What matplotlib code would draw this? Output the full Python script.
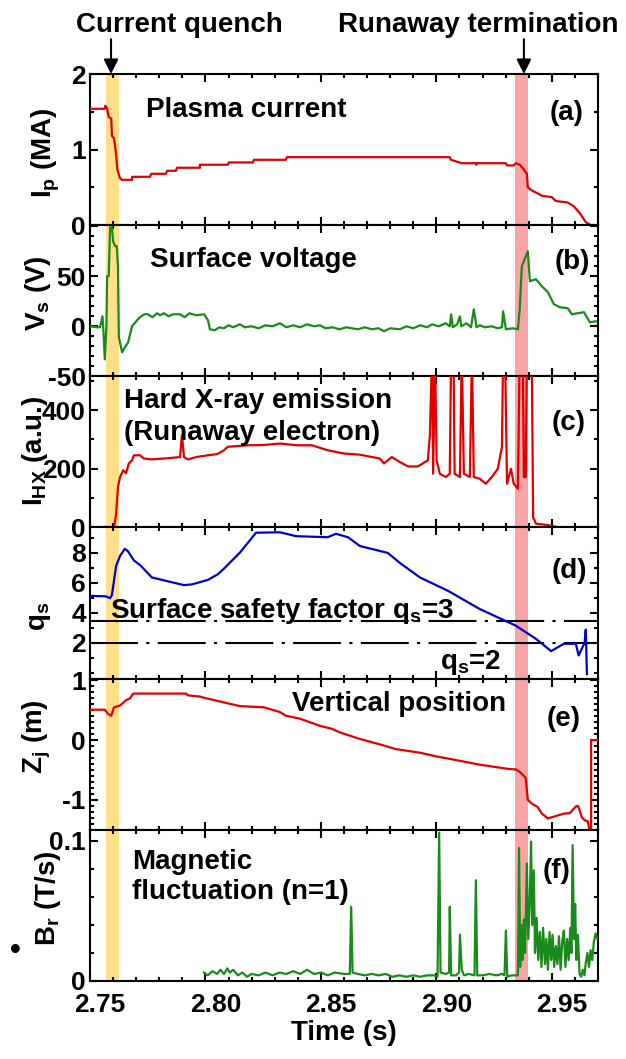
import numpy as np
import matplotlib
matplotlib.use('Agg')
import matplotlib.pyplot as plt
from matplotlib.ticker import MultipleLocator
from matplotlib.transforms import ScaledTranslation

plt.rcParams.update({'font.family': ['Liberation Sans', 'DejaVu Sans'],
                     'font.weight': 'bold', 'font.size': 20,
                     'axes.labelweight': 'bold',
                     'axes.unicode_minus': False,
                     'mathtext.fontset': 'custom',
                     'mathtext.rm': 'Liberation Sans:bold',
                     'mathtext.bf': 'Liberation Sans:bold',
                     'mathtext.it': 'Liberation Sans:bold',
                     'mathtext.default': 'rm',
                     'axes.linewidth': 1.5})

# shaded time windows (s)
quench_win = (2.7570, 2.7626)
term_win = (2.9340, 2.9396)

# (a) plasma current, MA
ip_pts = [(2.7500, 1.54), (2.7564, 1.54), (2.7566, 1.58), (2.7574, 1.54), (2.7581, 1.43),
          (2.7592, 1.41), (2.7595, 1.18), (2.7604, 1.15), (2.7613, 0.94), (2.7618, 0.74),
          (2.7630, 0.62), (2.7638, 0.60), (2.7682, 0.60), (2.7682, 0.64), (2.7760, 0.64),
          (2.7765, 0.68), (2.7829, 0.68), (2.7834, 0.72), (2.7872, 0.72), (2.7877, 0.76),
          (2.7976, 0.76), (2.7976, 0.80), (2.8097, 0.80), (2.8101, 0.83), (2.8205, 0.83),
          (2.8210, 0.865), (2.8348, 0.865), (2.8353, 0.90), (2.9058, 0.90), (2.9063, 0.865),
          (2.9110, 0.82), (2.9171, 0.82), (2.9173, 0.80), (2.9176, 0.82), (2.9301, 0.82),
          (2.9306, 0.79), (2.9335, 0.79), (2.9344, 0.82), (2.9361, 0.80), (2.9378, 0.74),
          (2.9392, 0.68), (2.9396, 0.50), (2.9413, 0.46), (2.9439, 0.42), (2.9457, 0.39),
          (2.9500, 0.37), (2.9517, 0.32), (2.9569, 0.30), (2.9595, 0.25), (2.9621, 0.16),
          (2.9647, 0.04), (2.9669, 0.0)]

# (b) surface voltage, V
vs_pts = [(2.7500, 0), (2.7530, -1), (2.7543, -1), (2.7554, 10), (2.7557, 0), (2.7564, -33),
          (2.7571, 0), (2.7574, 50), (2.7581, 50), (2.7587, 99), (2.7595, 99), (2.7600, 85),
          (2.7609, 80), (2.7616, 80), (2.7621, 60), (2.7625, -11), (2.7639, -26), (2.7651, -21),
          (2.7665, -16), (2.7682, 0), (2.7700, 5), (2.7716, 9), (2.7735, 12), (2.7751, 12),
          (2.7770, 9), (2.7790, 13), (2.7803, 11), (2.7820, 13), (2.7840, 10), (2.7860, 12),
          (2.7890, 12), (2.7910, 9), (2.7930, 13), (2.7960, 11), (2.7994, 12), (2.8011, 6),
          (2.8019, -3), (2.8040, -4), (2.8060, -1), (2.8080, -2), (2.8100, 1), (2.8120, -1),
          (2.8149, 2), (2.8170, -1), (2.8200, 0), (2.8230, -2), (2.8260, 1), (2.8290, 0),
          (2.8323, 3), (2.8350, -1), (2.8380, 1), (2.8410, -1), (2.8440, 2), (2.8470, 0),
          (2.8496, 1), (2.8520, -2), (2.8550, -1), (2.8580, -3), (2.8610, -1), (2.8634, -2),
          (2.8660, -3), (2.8690, -1), (2.8720, -3), (2.8750, -2), (2.8773, -5), (2.8800, -2),
          (2.8842, -3), (2.8870, 0), (2.8900, -2), (2.8930, 1), (2.8960, -1), (2.8981, 2),
          (2.9010, 0), (2.9040, 3), (2.9058, 0), (2.9064, 12), (2.9071, -1), (2.9090, 2),
          (2.9102, 10), (2.9108, 0), (2.9130, 3), (2.9150, -1), (2.9162, 17), (2.9174, -1),
          (2.9188, 1), (2.9210, -1), (2.9240, 0), (2.9265, -2), (2.9284, -1), (2.9289, 15),
          (2.9301, -3), (2.9330, -2), (2.9353, -3), (2.9361, 17), (2.9370, 60), (2.9379, 65),
          (2.9396, 75), (2.9405, 45), (2.9431, 47), (2.9457, 40), (2.9483, 34), (2.9509, 22),
          (2.9535, 19), (2.9569, 18), (2.9587, 12), (2.9610, 13), (2.9639, 14), (2.9665, 4),
          (2.9690, 5)]

# (c) hard X-ray intensity, a.u. (values above the frame are clipped spikes)
hx_pts = [(2.7505, 0), (2.7569, 2), (2.7604, 0), (2.7613, 47), (2.7621, 138), (2.7630, 172),
          (2.7644, 195), (2.7656, 185), (2.7668, 218), (2.7682, 229), (2.7690, 246),
          (2.7716, 246), (2.7734, 235), (2.7768, 232), (2.7838, 236), (2.7890, 240),
          (2.7898, 315), (2.7907, 240), (2.7924, 232), (2.7960, 240), (2.8011, 246),
          (2.8050, 250), (2.8080, 263), (2.8097, 275), (2.8184, 280), (2.8250, 281),
          (2.8323, 286), (2.8400, 280), (2.8461, 280), (2.8530, 263), (2.8600, 252),
          (2.8669, 248), (2.8755, 235), (2.8773, 218), (2.8807, 240), (2.8842, 223),
          (2.8877, 208), (2.8920, 208), (2.8963, 229), (2.8972, 315), (2.8981, 600),
          (2.8986, 183), (2.8994, 600), (2.9001, 229), (2.9015, 183), (2.9041, 172),
          (2.9058, 183), (2.9064, 600), (2.9074, 600), (2.9079, 183), (2.9102, 172),
          (2.9110, 600), (2.9119, 183), (2.9145, 172), (2.9154, 600), (2.9162, 172),
          (2.9188, 166), (2.9214, 149), (2.9240, 172), (2.9266, 200), (2.9284, 275),
          (2.9289, 600), (2.9297, 600), (2.9306, 149), (2.9323, 200), (2.9335, 149),
          (2.9353, 132), (2.9361, 600), (2.9374, 600), (2.9379, 172), (2.9387, 172),
          (2.9392, 600), (2.9413, 600), (2.9419, 35), (2.9431, 13), (2.9483, 8),
          (2.9535, 0), (2.9690, 0)]

# (d) surface safety factor
qs_pts = [(2.7500, 5.13), (2.7569, 5.10), (2.7587, 4.97), (2.7595, 5.20), (2.7613, 7.13),
          (2.7630, 7.80), (2.7651, 8.28), (2.7665, 8.10), (2.7690, 7.50), (2.7716, 7.20),
          (2.7768, 6.36), (2.7838, 6.10), (2.7907, 5.85), (2.7942, 5.90), (2.8011, 6.20),
          (2.8054, 6.58), (2.8080, 6.95), (2.8149, 8.02), (2.8219, 9.35), (2.8323, 9.38),
          (2.8392, 9.12), (2.8530, 9.05), (2.8565, 9.28), (2.8617, 9.05), (2.8669, 8.46),
          (2.8790, 8.00), (2.8842, 7.33), (2.8929, 6.36), (2.9050, 5.47), (2.9188, 4.25),
          (2.9344, 3.14), (2.9431, 2.26), (2.9497, 1.44), (2.9552, 1.93), (2.9604, 1.93),
          (2.9616, 1.15), (2.9642, 2.00), (2.9647, 2.87), (2.9652, -0.10)]
qs_lines = [3.45, 2.0]   # dash-dot reference lines labelled q_s=3 and q_s=2

# (e) vertical position, m
zj_pts = [(2.7500, 0.51), (2.7564, 0.51), (2.7578, 0.44), (2.7592, 0.41), (2.7604, 0.55),
          (2.7630, 0.58), (2.7656, 0.67), (2.7673, 0.70), (2.7687, 0.78), (2.7916, 0.78),
          (2.7924, 0.75), (2.7976, 0.73), (2.7994, 0.71), (2.8149, 0.57), (2.8253, 0.55),
          (2.8323, 0.47), (2.8348, 0.41), (2.8409, 0.36), (2.8496, 0.24), (2.8548, 0.19),
          (2.8582, 0.13), (2.8669, 0.02), (2.8755, -0.07), (2.8825, -0.15), (2.8929, -0.21),
          (2.8998, -0.27), (2.9067, -0.32), (2.9188, -0.41), (2.9310, -0.48), (2.9344, -0.49),
          (2.9361, -0.53), (2.9387, -0.63), (2.9396, -1.00), (2.9413, -1.06), (2.9439, -1.12),
          (2.9457, -1.23), (2.9483, -1.31), (2.9517, -1.27), (2.9552, -1.23), (2.9578, -1.22),
          (2.9604, -1.11), (2.9613, -1.10), (2.9621, -1.18), (2.9630, -1.29), (2.9642, -1.34),
          (2.9656, -1.36), (2.9665, -1.55), (2.9670, -1.55), (2.9670, 0.0), (2.9699, 0.0)]

# (f) magnetic fluctuation, T/s
br_pts = [(2.7994, 0.006), (2.8010, 0.004), (2.8030, 0.007), (2.8050, 0.005), (2.8065, 0.008),
          (2.8080, 0.005), (2.8095, 0.009), (2.8105, 0.006), (2.8120, 0.008), (2.8140, 0.004),
          (2.8160, 0.006), (2.8180, 0.003), (2.8200, 0.005), (2.8230, 0.004), (2.8260, 0.006),
          (2.8290, 0.004), (2.8320, 0.006), (2.8350, 0.005), (2.8380, 0.007), (2.8410, 0.005),
          (2.8440, 0.008), (2.8470, 0.005), (2.8500, 0.006), (2.8530, 0.004), (2.8560, 0.006),
          (2.8600, 0.005), (2.8625, 0.005), (2.8631, 0.053), (2.8637, 0.006), (2.8660, 0.005),
          (2.8690, 0.004), (2.8720, 0.005), (2.8750, 0.004), (2.8780, 0.005), (2.8810, 0.003),
          (2.8840, 0.004), (2.8870, 0.003), (2.8900, 0.004), (2.8930, 0.003), (2.8960, 0.004),
          (2.8990, 0.004), (2.9005, 0.003), (2.9012, 0.106), (2.9018, 0.006), (2.9040, 0.005),
          (2.9055, 0.006), (2.9058, 0.053), (2.9064, 0.004), (2.9085, 0.004), (2.9098, 0.006),
          (2.9102, 0.033), (2.9110, 0.008), (2.9120, 0.004), (2.9140, 0.005), (2.9165, 0.004),
          (2.9171, 0.072), (2.9177, 0.004), (2.9200, 0.004), (2.9230, 0.005), (2.9260, 0.004),
          (2.9285, 0.005), (2.9295, 0.004), (2.9301, 0.036), (2.9307, 0.003), (2.9325, 0.004),
          (2.9344, 0.004), (2.9353, 0.004), (2.9358, 0.095), (2.9363, 0.010), (2.9368, 0.040),
          (2.9374, 0.015), (2.9379, 0.044), (2.9384, 0.020), (2.9392, 0.084), (2.9398, 0.030),
          (2.9405, 0.060), (2.9410, 0.0995), (2.9415, 0.040), (2.9422, 0.079), (2.9427, 0.020),
          (2.9434, 0.045), (2.9441, 0.015), (2.9448, 0.035), (2.9455, 0.010), (2.9462, 0.038),
          (2.9470, 0.012), (2.9476, 0.030), (2.9483, 0.008), (2.9490, 0.035), (2.9497, 0.015),
          (2.9503, 0.033), (2.9510, 0.010), (2.9517, 0.025), (2.9524, 0.012), (2.9531, 0.032),
          (2.9538, 0.008), (2.9545, 0.028), (2.9552, 0.036), (2.9559, 0.010), (2.9566, 0.030),
          (2.9573, 0.015), (2.9580, 0.038), (2.9585, 0.020), (2.9590, 0.097), (2.9596, 0.030),
          (2.9601, 0.055), (2.9606, 0.015), (2.9613, 0.033), (2.9620, 0.005), (2.9627, 0.003),
          (2.9634, 0.008), (2.9641, 0.004), (2.9647, 0.013), (2.9654, 0.020), (2.9661, 0.010),
          (2.9668, 0.022), (2.9675, 0.015), (2.9682, 0.028), (2.9690, 0.034), (2.9697, 0.030)]

red = '#E00000'
green = '#1A8A1A'
blue = '#0000CC'

fig = plt.figure(figsize=(6.26, 10.59), dpi=100)
axes = fig.subplots(6, 1, sharex=True)
fig.subplots_adjust(left=0.1438, right=0.9553, top=0.9301, bottom=0.0737, hspace=0)
ax_a, ax_b, ax_c, ax_d, ax_e, ax_f = axes

series = [(ax_a, ip_pts, red), (ax_b, vs_pts, green), (ax_c, hx_pts, red),
          (ax_d, qs_pts, blue), (ax_e, zj_pts, red), (ax_f, br_pts, green)]
for ax, pts, col in series:
    t, v = np.array(pts).T
    ax.plot(t, v, color=col, lw=1.6, zorder=3)
    ax.axvspan(*quench_win, color='#FFDF88', lw=0, zorder=1)
    ax.axvspan(*term_win, color='#F9A4A4', lw=0, zorder=1)
    ax.tick_params(which='both', direction='in', top=True, right=True, width=1.5, labelsize=19, pad=3)
    ax.tick_params(which='major', length=6)
    ax.tick_params(which='minor', length=3)
    ax.xaxis.set_minor_locator(MultipleLocator(0.01))

ax_f.set_xlim(2.75, 2.97)
ax_f.set_xticks([2.75, 2.80, 2.85, 2.90, 2.95])
ax_f.set_xticklabels(['2.75', '2.80', '2.85', '2.90', '2.95'])
ax_f.tick_params(axis='x', pad=9)
for lab in ax_f.get_xticklabels():
    lab.set_transform(lab.get_transform() + ScaledTranslation(0.10, 0, fig.dpi_scale_trans))
ax_f.set_xlabel('Time (s)', fontsize=20, labelpad=2)

ax_a.set_ylim(0, 2)
ax_a.set_yticks([0, 1, 2])
ax_a.yaxis.set_minor_locator(MultipleLocator(0.5))

ax_b.set_ylim(-50, 101)
ax_b.set_yticks([-50, 0, 50, 100])
ax_b.set_yticklabels(['-50', '0', '50', ''])
ax_b.yaxis.set_minor_locator(MultipleLocator(10))

ax_c.set_ylim(0, 515)
ax_c.set_yticks([0, 200, 400])
ax_c.yaxis.set_minor_locator(MultipleLocator(100))

ax_d.set_ylim(-0.4, 9.7)
ax_d.set_yticks([2, 4, 6, 8])
ax_d.yaxis.set_minor_locator(MultipleLocator(1))
dd = (0, (23, 4, 1.5, 4))
for q in qs_lines:
    ax_d.axhline(q, color='k', lw=1.5, linestyle=dd, zorder=2)

ax_e.set_ylim(-1.5, 1.03)
ax_e.set_yticks([-1, 0, 1])
ax_e.yaxis.set_minor_locator(MultipleLocator(0.1))

ax_f.set_ylim(0, 0.108)
ax_f.set_yticks([0, 0.1])
ax_f.set_yticklabels(['0', '0.1'])
ax_f.yaxis.set_minor_locator(MultipleLocator(0.02))

ylabels = [(ax_a, 'I$_\\mathbf{p}$ (MA)', -0.055, 0.48),
           (ax_b, 'V$_\\mathbf{s}$ (V)', -0.073, 0.55),
           (ax_c, 'I$_\\mathbf{HX}$ (a.u.)', -0.079, 0.51),
           (ax_d, 'q$_\\mathbf{s}$', -0.073, 0.41),
           (ax_e, 'Z$_\\mathbf{j}$ (m)', -0.073, 0.62),
           (ax_f, 'B$_\\mathbf{r}$ (T/s)', -0.053, 0.55)]
for ax, txt, lx, ly in ylabels:
    ax.set_ylabel(txt, fontsize=20, fontweight='bold')
    ax.yaxis.set_label_coords(lx, ly)
fig.text(15 / 626, 1 - 951 / 1059, '•', fontsize=22, ha='center', va='center')

# panel texts: x in time, y in axes fraction
notes = [(ax_a, 2.7742, 0.76, 'Plasma current', 'left'),
         (ax_a, 2.9565, 0.74, '(a)', 'center'),
         (ax_b, 2.7760, 0.77, 'Surface voltage', 'left'),
         (ax_b, 2.9587, 0.755, '(b)', 'center'),
         (ax_c, 2.7647, 0.84, 'Hard X-ray emission', 'left'),
         (ax_c, 2.7647, 0.625, '(Runaway electron)', 'left'),
         (ax_c, 2.9574, 0.69, '(c)', 'center'),
         (ax_d, 2.7587, 0.45, 'Surface safety factor q$_\\mathbf{s}$=3', 'left'),
         (ax_d, 2.9015, 0.11, 'q$_\\mathbf{s}$=2', 'left'),
         (ax_d, 2.9578, 0.71, '(d)', 'center'),
         (ax_e, 2.8374, 0.83, 'Vertical position', 'left'),
         (ax_e, 2.9552, 0.735, '(e)', 'center'),
         (ax_f, 2.7682, 0.79, 'Magnetic', 'left'),
         (ax_f, 2.7682, 0.59, 'fluctuation (n=1)', 'left'),
         (ax_f, 2.9522, 0.725, '(f)', 'center')]
for ax, x, y, txt, ha in notes:
    ax.text(x, y, txt, ha=ha, va='center', fontsize=20, transform=ax.get_xaxis_transform(), zorder=4)

# event markers above the top panel
events = [(2.7591, 2.7885, 'Current quench'), (2.9379, 2.9180, 'Runaway termination')]
for t_arrow, t_text, txt in events:
    ax_a.text(t_text, 1.325, txt, ha='center', va='center', fontsize=20,
              transform=ax_a.get_xaxis_transform(), clip_on=False)
    ax_a.annotate('', xy=(t_arrow, 1.0), xytext=(t_arrow, 1.23), xycoords=ax_a.get_xaxis_transform(),
                  textcoords=ax_a.get_xaxis_transform(), annotation_clip=False,
                  arrowprops=dict(arrowstyle='-|>', color='k', lw=1.5, mutation_scale=22, shrinkA=0, shrinkB=0))

fig.savefig('out.png', dpi=100)
